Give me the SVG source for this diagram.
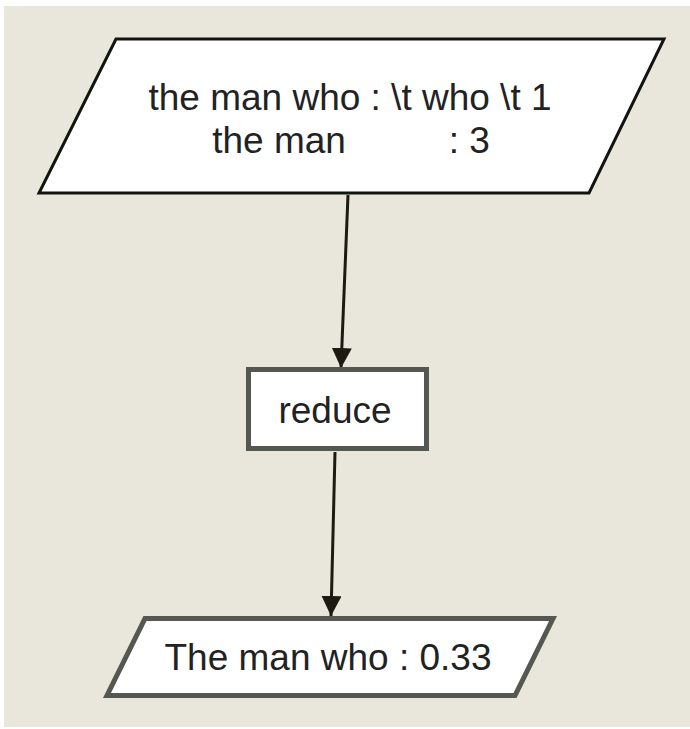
<svg xmlns="http://www.w3.org/2000/svg" width="690" height="729" viewBox="0 0 690 729">
  <style>
    .label { font-family: "Liberation Sans", Arial, sans-serif; font-size: 37px; fill: #222; text-anchor: middle; white-space: pre; }
    .edge { stroke: #1e1a12; stroke-width: 3; fill: none; }
    .shape { fill: #ffffff; }
  </style>
  <defs>
    <marker id="arrow" viewBox="0 0 20 20" refX="20" refY="10" markerWidth="20" markerHeight="20" markerUnits="userSpaceOnUse" orient="auto">
      <path d="M0,0 L20,10 L0,20 Z" fill="#1e1a12"/>
    </marker>
  </defs>
  <!-- canvas -->
  <rect x="0" y="0" width="690" height="729" fill="#ffffff"/>
  <rect x="4" y="6" width="686" height="721" fill="#e9e6dc"/>

  <!-- connectors -->
  <g id="connectors">
    <line class="edge" x1="348" y1="195" x2="341" y2="368" marker-end="url(#arrow)"/>
    <line class="edge" x1="335" y1="452" x2="331" y2="616" marker-end="url(#arrow)"/>
  </g>

  <!-- input data -->
  <g id="input">
    <polygon class="shape" points="116,39 664,39 589,193 39,193" stroke="#121410" stroke-width="3"/>
    <text class="label" x="350" y="110">the man who : \t who \t 1</text>
    <text class="label" x="351" y="153">the man          : 3</text>
  </g>

  <!-- reduce step -->
  <g id="reduce">
    <rect class="shape" x="248.5" y="369.5" width="178" height="79" stroke="#555850" stroke-width="5"/>
    <text class="label" x="335" y="423">reduce</text>
  </g>

  <!-- output data -->
  <g id="output">
    <polygon class="shape" points="145,618.5 553,618.5 515,695.5 107,695.5" stroke="#555850" stroke-width="5"/>
    <text class="label" x="328" y="670">The man who : 0.33</text>
  </g>
</svg>
